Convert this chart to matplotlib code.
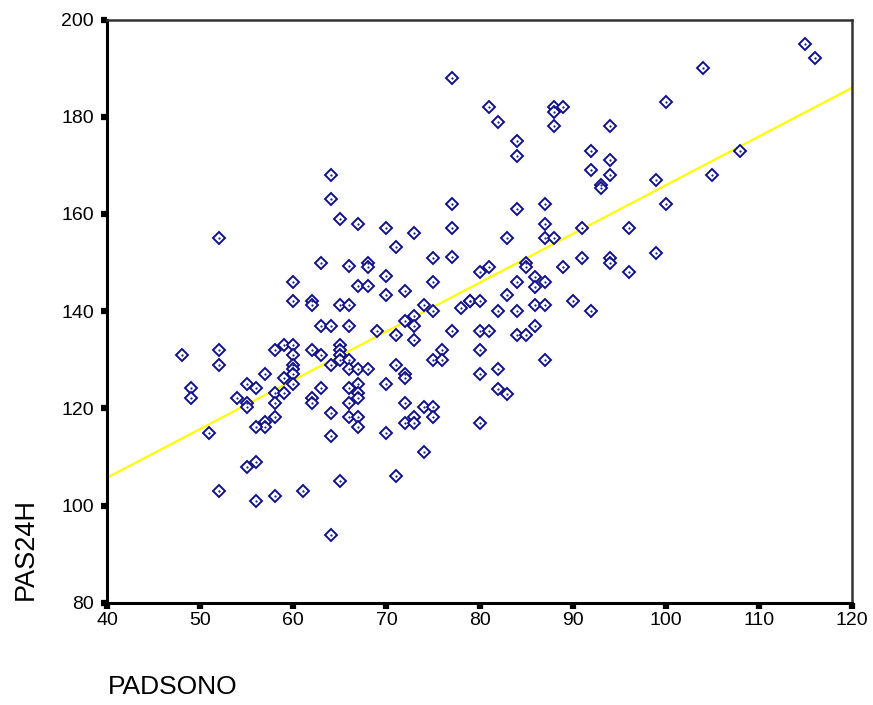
import numpy as np
import matplotlib
matplotlib.use("Agg")
import matplotlib.pyplot as plt

# PADSONO (x) vs PAS24H (y)
padsono = [77, 52, 64, 64, 65, 67, 70, 73, 71, 77, 77, 77, 75, 75, 63, 66, 68, 68,
           70, 67, 68, 70, 72, 60, 60, 62, 62, 65, 66, 74, 79, 78,
           115, 116, 104, 100, 81, 82, 88, 88, 89, 88, 94, 84, 84, 92, 94, 92, 94,
           93, 93, 108, 105, 99, 100, 84, 87, 87, 87, 88, 83, 91, 96, 99, 94, 94,
           91, 89, 96, 85, 85, 81, 80, 86, 84, 87, 86, 83, 79, 80, 86, 87, 90,
           82, 84, 92,
           80, 81, 86, 84, 85, 80, 87, 82, 80, 82, 83, 80,
           75, 63, 64, 66, 69, 73, 72, 73, 77, 71, 73,
           48, 52, 52, 49, 49, 51, 54, 55, 56, 55, 55, 57, 58, 59, 60,
           60, 60, 60, 60, 60, 59, 58, 59, 58, 58, 57, 57, 56,
           62, 63, 65, 65, 65, 65, 64, 66, 66, 67, 68, 63, 62, 62, 66,
           67, 67, 67, 66, 64, 66, 67, 67, 64, 70, 71, 72, 72, 72, 72, 73, 73,
           74, 75, 75, 75, 76, 76, 70, 74, 55, 56, 52, 56, 58, 61, 65, 71, 64]
pas24h = [188, 155, 168, 163, 159, 158, 157.2, 156, 153.2, 162, 157.2, 151.2, 151, 146, 150, 149.2, 150, 149.1,
          147.3, 145.2, 145.2, 143.3, 144.1, 146, 142.1, 142.1, 141.3, 141.3, 141.3, 141.3, 142.1, 140.6,
          195, 192, 190, 183, 182, 179, 182, 181, 182, 178, 178, 175, 172, 173, 171, 169, 168,
          166, 165.3, 173, 168, 167, 162, 161, 162, 158, 155, 155, 155, 157, 157, 152, 151, 150,
          151, 149, 148, 150, 149, 149, 148, 147, 146, 146, 145, 143.3, 142.1, 142.1, 141.3, 141.3, 142.1,
          140.1, 140.1, 140.1,
          136, 136, 137, 135, 135, 132, 130, 128, 127, 124, 123, 117,
          140.1, 137, 137, 137, 136, 139, 138, 137, 136, 135, 134,
          131, 132, 129, 124.2, 122.2, 115, 122.2, 125, 124.2, 121, 120.2, 127, 132, 133, 133,
          131, 129, 128, 127, 125, 126.2, 123.1, 123.1, 121, 118.3, 117.2, 116.2, 116.2,
          132, 131, 133, 132, 131, 130, 129, 130, 128, 128, 128, 124.2, 122.2, 121, 124.2,
          125, 123.1, 122.2, 121, 119, 118.3, 118.3, 116.2, 114.3, 125, 129, 127, 126.2, 121, 117, 118.3, 117,
          120.2, 120.2, 118.3, 130, 132, 130, 115, 111, 108, 109, 103, 101, 102, 103, 105, 106, 94]

# fitted line (intercept, slope)
fit_coef = [65.6, 1.003]

xticks = [40, 50, 60, 70, 80, 90, 100, 110, 120]
yticks = [80, 100, 120, 140, 160, 180, 200]

plt.rcParams["font.family"] = ["Liberation Sans", "DejaVu Sans"]

fig = plt.figure(figsize=(8.73, 7.05), dpi=100)
ax = fig.add_axes([0.1226, 0.1451, 0.8534, 0.8272])

navy = "#10108a"
ax.plot(padsono, pas24h, linestyle="none", marker="D", markersize=6.0,
        markerfacecolor="white", markeredgecolor=navy, markeredgewidth=1.4, zorder=3)
ax.plot(padsono, pas24h, linestyle="none", marker=".", markersize=1.2,
        color=navy, zorder=4)

xl = np.array([40, 120])
ax.plot(xl, fit_coef[0] + fit_coef[1] * xl, color="#ffff00", linewidth=1.6, zorder=2)

ax.set_xlim(40, 120)
ax.set_ylim(80, 200)
ax.set_xticks(xticks)
ax.set_yticks(yticks)
ax.tick_params(axis="both", direction="out", length=4, width=4.5, color="black",
               labelsize=14)
ax.tick_params(axis="y", pad=5.5)
ax.tick_params(axis="x", pad=3)
for side in ["left", "bottom"]:
    ax.spines[side].set_linewidth(2.2)
for side in ["top", "right"]:
    ax.spines[side].set_linewidth(1.8)
    ax.spines[side].set_color("#333333")

fig.text(0.124, 0.0085, "PADSONO", fontsize=19, ha="left", va="bottom")
fig.text(0.015, 0.149, "PAS24H", fontsize=19.5, rotation=90, ha="left", va="bottom")

fig.savefig("out.png", dpi=100)
